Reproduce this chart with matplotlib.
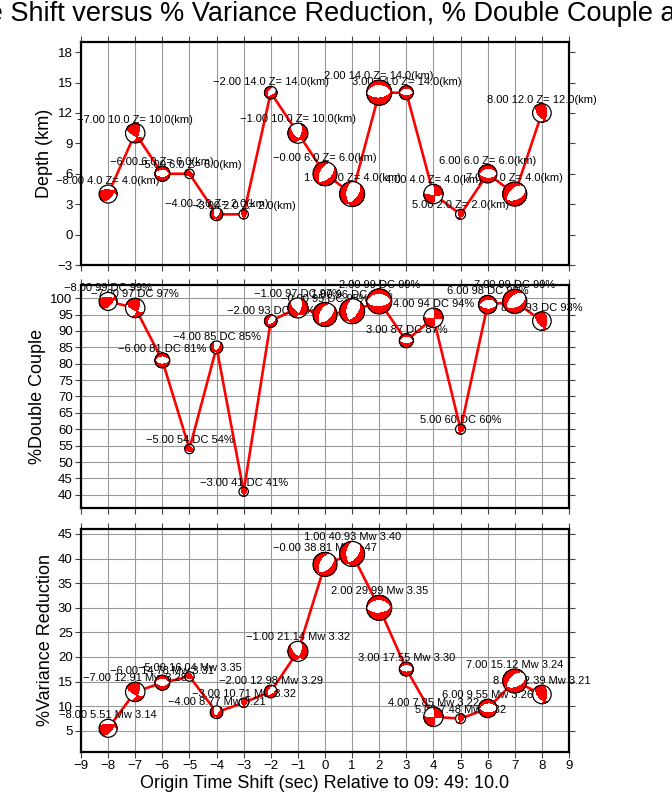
import numpy as np
import matplotlib
matplotlib.use("Agg")
import matplotlib.pyplot as plt
from matplotlib.patches import Ellipse

plt.rcParams['font.family'] = ['Liberation Sans', 'DejaVu Sans']

# origin time shifts (sec); -0.0 kept so the label reads "-0.00"
tshift = [-8.0, -7.0, -6.0, -5.0, -4.0, -3.0, -2.0, -1.0, -0.0,
          1.0, 2.0, 3.0, 4.0, 5.0, 6.0, 7.0, 8.0]
depth = [4, 10, 6, 6, 2, 2, 14, 10, 6, 4, 14, 14, 4, 2, 6, 4, 12]
dc = [99, 97, 81, 54, 85, 41, 93, 97, 95, 96, 99, 87, 94, 60, 98, 99, 93]
vr = [5.51, 12.91, 14.78, 16.04, 8.77, 10.71, 12.98, 21.14, 38.81,
      40.93, 29.99, 17.55, 7.85, 7.48, 9.55, 15.12, 12.39]
mw = [3.14, 3.28, 3.31, 3.35, 3.21, 3.32, 3.29, 3.32, 3.47,
      3.40, 3.35, 3.30, 3.22, 3.32, 3.26, 3.24, 3.21]
# focal mechanisms (strike, dip, rake), rough guesses from the balls
mech = [(40, 55, 50), (120, 70, 30), (90, 50, -90), (100, 50, 60),
        (40, 60, -50), (150, 60, 50), (60, 50, -60), (20, 60, -40),
        (50, 45, -70), (40, 50, -60), (85, 55, -95), (90, 55, -90),
        (0, 80, -10), (170, 60, 50), (95, 50, -80), (70, 45, -70),
        (140, 55, 60)]
# beach ball radius in pixels
ball_r = [9, 9.7, 7.5, 4.7, 6.3, 4.7, 6.3, 10, 12, 12.5, 12.5, 7, 9.7,
          5, 9.2, 12, 9.3]

W, H = 672, 800
MINUS = '\u2212'


def moment(strike, dip, rake):
    s, d, r = np.radians([strike, dip, rake])
    mxx = -(np.sin(d) * np.cos(r) * np.sin(2 * s)
            + np.sin(2 * d) * np.sin(r) * np.sin(s) ** 2)
    myy = (np.sin(d) * np.cos(r) * np.sin(2 * s)
           - np.sin(2 * d) * np.sin(r) * np.cos(s) ** 2)
    mzz = np.sin(2 * d) * np.sin(r)
    mxy = (np.sin(d) * np.cos(r) * np.cos(2 * s)
           + 0.5 * np.sin(2 * d) * np.sin(r) * np.sin(2 * s))
    mxz = -(np.cos(d) * np.cos(r) * np.cos(s)
            + np.cos(2 * d) * np.sin(r) * np.sin(s))
    myz = -(np.cos(d) * np.cos(r) * np.sin(s)
            - np.cos(2 * d) * np.sin(r) * np.cos(s))
    return np.array([[mxx, mxy, mxz], [mxy, myy, myz], [mxz, myz, mzz]])


def beachball(ax, x, y, r_px, m):
    pos = ax.get_position()
    x0, x1 = ax.get_xlim()
    y0, y1 = ax.get_ylim()
    sx = (x1 - x0) / (pos.width * W)
    sy = (y1 - y0) / (pos.height * H)
    rho, th = np.meshgrid(np.linspace(0, 1, 40), np.linspace(0, 2 * np.pi, 181))
    inc = 2 * np.arcsin(np.clip(rho / np.sqrt(2), 0, 1))
    az = np.pi / 2 - th  # azimuth from north
    n = np.array([np.sin(inc) * np.cos(az), np.sin(inc) * np.sin(az), np.cos(inc)])
    M = moment(*m)
    amp = np.einsum('i...,ij,j...->...', n, M, n)
    X = x + rho * np.cos(th) * r_px * sx
    Y = y + rho * np.sin(th) * r_px * sy
    ax.add_patch(Ellipse((x, y), 2 * r_px * sx, 2 * r_px * sy, facecolor='white',
                         edgecolor='none', zorder=5, clip_on=False))
    ax.contourf(X, Y, amp, levels=[0, 1e9], colors=['red'], zorder=6)
    ax.add_patch(Ellipse((x, y), 2 * r_px * sx, 2 * r_px * sy, facecolor='none',
                         edgecolor='black', lw=0.9, zorder=7, clip_on=False))


def panel(ax, yvals, labels, ylim, yticks, ylabel, ygrid):
    ax.set_xlim(-9, 9)
    ax.set_ylim(*ylim)
    ax.set_xticks(range(-9, 10))
    ax.set_yticks(yticks)
    ax.grid(axis='x', color='#999999', lw=0.8)
    if ygrid:
        ax.grid(axis='y', color='#999999', lw=0.8)
    ax.set_axisbelow(True)
    for sp in ax.spines.values():
        sp.set_linewidth(1.6)
    ax.tick_params(direction='out', length=4, width=0.8, color='#444444',
                   top=True, right=True, labelsize=9.5, pad=2)
    ax.set_ylabel(ylabel, fontsize=13, labelpad=3)
    ax.plot(tshift, yvals, color='red', lw=1.9, zorder=3)
    for i, t in enumerate(tshift):
        ax.annotate(labels[i], (t, yvals[i]), xytext=(0, (ball_r[i] + 4) * 0.72),
                    textcoords='offset points', ha='center', va='center',
                    fontsize=8, zorder=4, annotation_clip=False)
    for i, t in enumerate(tshift):
        beachball(ax, t, yvals[i], ball_r[i], mech[i])


fig = plt.figure(figsize=(W / 100, H / 100), dpi=100)
left, width = 81 / W, 488 / W
ax1 = fig.add_axes([left, 1 - 265 / H, width, 223 / H])
ax2 = fig.add_axes([left, 1 - 508 / H, width, 223 / H])
ax3 = fig.add_axes([left, 1 - 752 / H, width, 223 / H])

lab1 = [f"{t:.2f} {z:.1f} Z= {z:.1f}(km)".replace('-', MINUS) for t, z in zip(tshift, depth)]
lab2 = [f"{t:.2f} {d} DC {d}%".replace('-', MINUS) for t, d in zip(tshift, dc)]
lab3 = [f"{t:.2f} {v:.2f} Mw {m:.2f}".replace('-', MINUS) for t, v, m in zip(tshift, vr, mw)]

panel(ax1, depth, lab1, (-3, 19), range(-3, 19, 3), 'Depth (km)', False)
panel(ax2, dc, lab2, (36, 104), range(40, 101, 5), '%Double Couple', True)
panel(ax3, vr, lab3, (0.7, 46), range(5, 46, 5), '%Variance Reduction', True)

ax1.tick_params(labelbottom=False)
ax2.tick_params(labelbottom=False)
ax3.set_xlabel('Origin Time Shift (sec) Relative to 09: 49: 10.0', fontsize=13, labelpad=2)

fig.text(325 / W, 1 - 14 / H,
         'Origin Time Shift versus % Variance Reduction, % Double Couple and Depth',
         ha='center', va='center', fontsize=19.5)

fig.savefig('out.png', dpi=100)
